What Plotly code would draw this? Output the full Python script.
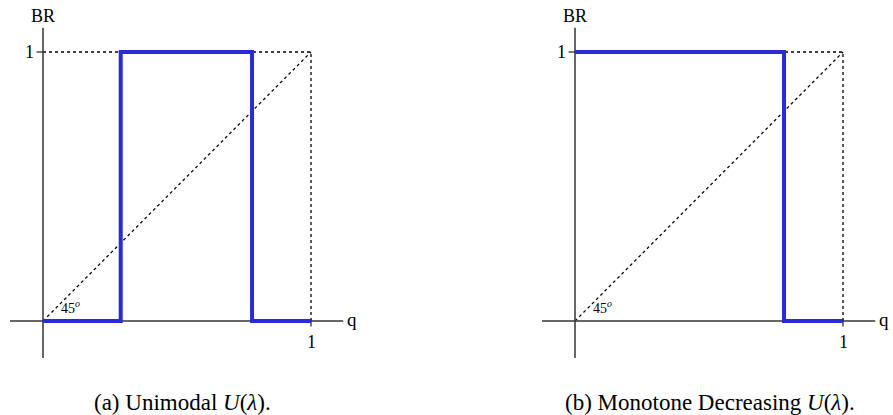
import plotly.graph_objects as go

# Best-response step functions BR(q) on [0, 1]
panels = ["a", "b"]
captions = ["(a) Unimodal <i>U</i>(<i>λ</i>).", "(b) Monotone Decreasing <i>U</i>(<i>λ</i>)."]
br_q = [
    [0.0, 0.29, 0.29, 0.78, 0.78, 1.0],
    [0.0, 0.78, 0.78, 1.0],
]
br_val = [
    [0, 0, 1, 1, 0, 0],
    [1, 1, 0, 0],
]
# dotted guides: 45-degree line, top edge, right edge
guide_q = [0, 1, 1, 0]
guide_v = [0, 1, 0, 1]

BLUE = "rgb(42,42,214)"
AXIS = "#333333"
FONT = "Liberation Serif"

fig = go.Figure()

x_domains = [[0.0, 360 / 893], [530 / 893, 1.0]]
x_ranges = [[-43 / 268, 317 / 268], [-45 / 268, 318 / 268]]
y_range = [-94 / 269, 321 / 269]
caption_centers = [182 / 893, 710 / 893]

for i, p in enumerate(panels):
    xa = "x" if i == 0 else "x2"
    ya = "y" if i == 0 else "y2"
    dot = dict(color="black", width=1.3, dash="dot")
    # dotted reference lines
    fig.add_trace(go.Scatter(x=[guide_q[0], guide_q[1]], y=[guide_v[0], guide_v[1]],
                             mode="lines", line=dot, xaxis=xa, yaxis=ya, hoverinfo="skip"))
    fig.add_trace(go.Scatter(x=[guide_q[3], guide_q[1], guide_q[2]], y=[guide_v[3], guide_v[1], guide_v[2]],
                             mode="lines", line=dot, xaxis=xa, yaxis=ya, hoverinfo="skip"))
    # coordinate axes
    fig.add_trace(go.Scatter(x=[-0.123, 1.12], y=[0, 0], mode="lines",
                             line=dict(color=AXIS, width=1.5), xaxis=xa, yaxis=ya, hoverinfo="skip"))
    fig.add_trace(go.Scatter(x=[0, 0], y=[-0.138, 1.09], mode="lines",
                             line=dict(color=AXIS, width=1.5), xaxis=xa, yaxis=ya, hoverinfo="skip"))
    # tick marks at 1
    fig.add_trace(go.Scatter(x=[-0.024, 0], y=[1, 1], mode="lines",
                             line=dict(color=AXIS, width=1.3), xaxis=xa, yaxis=ya, hoverinfo="skip"))
    fig.add_trace(go.Scatter(x=[1, 1], y=[0.008, -0.02], mode="lines",
                             line=dict(color=AXIS, width=1.3), xaxis=xa, yaxis=ya, hoverinfo="skip"))
    # best response
    fig.add_trace(go.Scatter(x=br_q[i], y=br_val[i], mode="lines",
                             line=dict(color=BLUE, width=4),
                             xaxis=xa, yaxis=ya, hoverinfo="skip"))

    fig.add_annotation(x=0, y=1.135, xref=xa, yref=ya, text="BR", showarrow=False,
                       xanchor="center", font=dict(family=FONT, size=18, color="black"))
    fig.add_annotation(x=-0.026, y=1, xref=xa, yref=ya, text="1", showarrow=False,
                       xanchor="right", font=dict(family=FONT, size=18, color="black"))
    fig.add_annotation(x=1, y=-0.035, xref=xa, yref=ya, text="1", showarrow=False,
                       xanchor="center", yanchor="top", font=dict(family=FONT, size=18, color="black"))
    fig.add_annotation(x=1.125, y=0.005, xref=xa, yref=ya, text="q", showarrow=False,
                       xanchor="left", font=dict(family=FONT, size=19, color="black"))
    fig.add_annotation(x=0.06, y=0.012, xref=xa, yref=ya, text="45<sup><i>o</i></sup>",
                       showarrow=False, xanchor="left", yanchor="bottom",
                       font=dict(family=FONT, size=14, color="black"))
    fig.add_annotation(x=caption_centers[i], y=(415 - 402) / 415,
                       xref="paper", yref="paper", text=captions[i], showarrow=False,
                       xanchor="center", yanchor="middle",
                       font=dict(family=FONT, size=23, color="black"))

axis_common = dict(visible=False, showgrid=False, zeroline=False, fixedrange=True)
fig.update_layout(
    width=893, height=415,
    margin=dict(l=0, r=0, t=0, b=0),
    paper_bgcolor="white", plot_bgcolor="white",
    showlegend=False,
    xaxis=dict(domain=x_domains[0], range=x_ranges[0], **axis_common),
    yaxis=dict(domain=[0, 1], range=y_range, **axis_common),
    xaxis2=dict(domain=x_domains[1], range=x_ranges[1], **axis_common),
    yaxis2=dict(domain=[0, 1], range=y_range, anchor="x2", **axis_common),
)

fig.write_html("out.html")
